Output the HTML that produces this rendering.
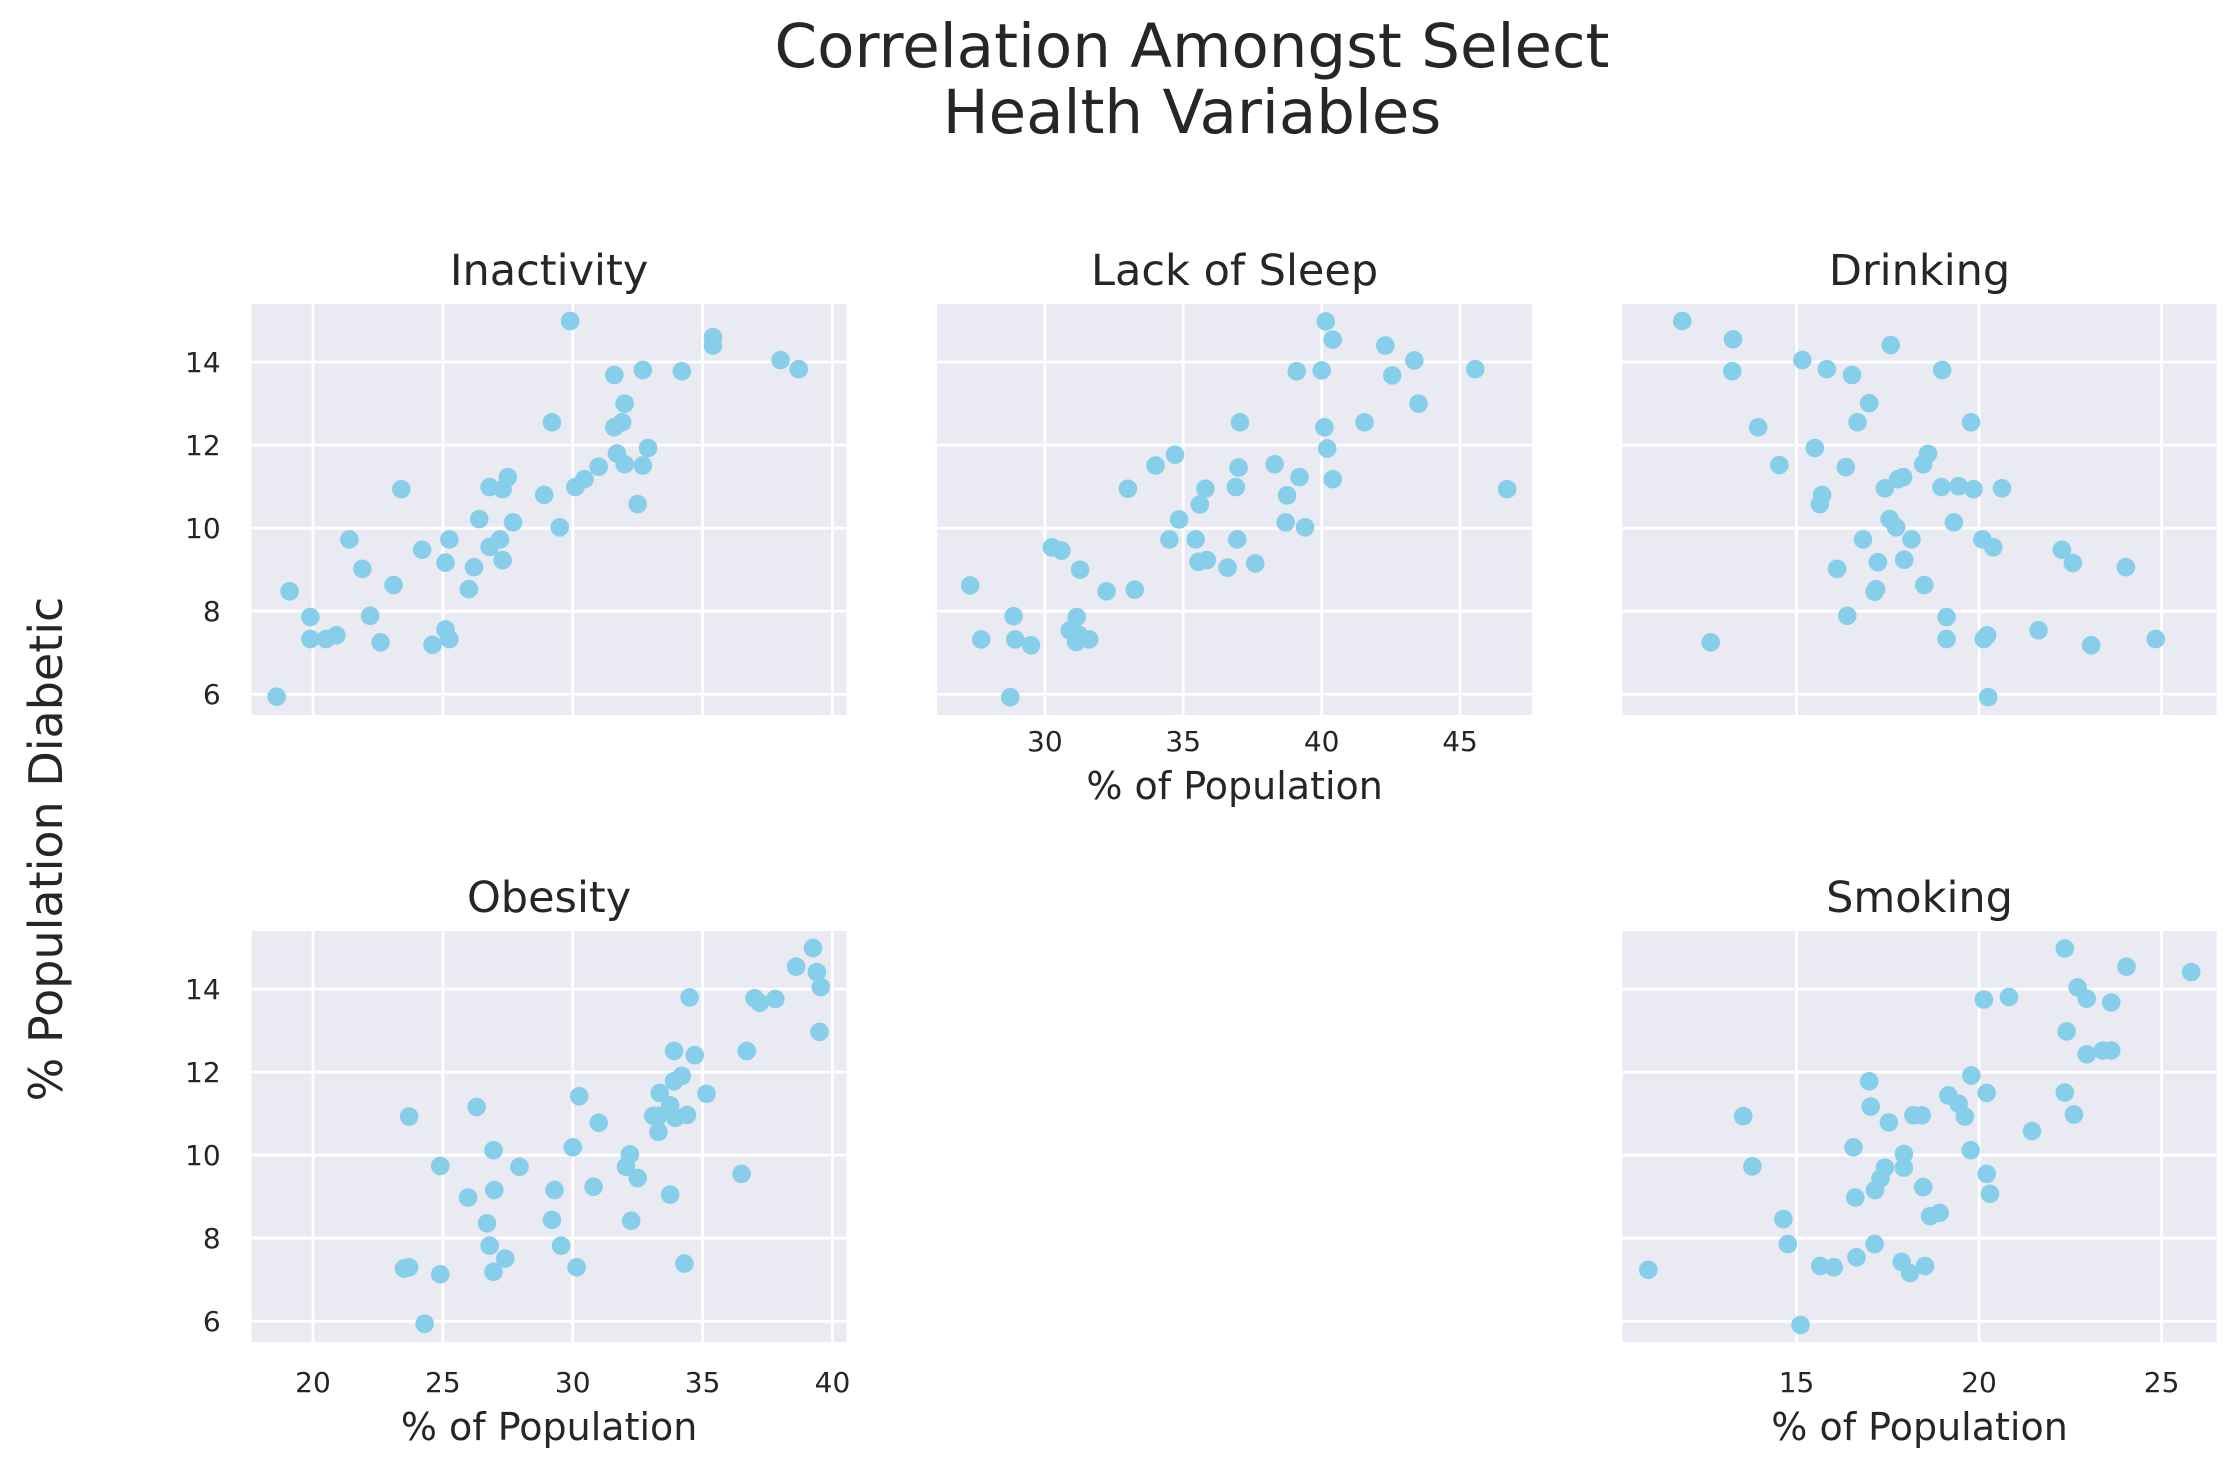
<!DOCTYPE html>
<html><head><meta charset="utf-8"><style>
html,body{margin:0;padding:0;background:#fff;}
svg{display:block;font-family:"DejaVu Sans","Liberation Sans",sans-serif;}
</style></head><body>
<svg id="fig" width="2230" height="1467" viewBox="0 0 2230 1467" xmlns="http://www.w3.org/2000/svg">
<text x="1192" y="67" font-size="61" text-anchor="middle" fill="#262626">Correlation Amongst Select</text>
<text x="1192" y="133" font-size="61" text-anchor="middle" fill="#262626">Health Variables</text>
<text x="0" y="0" font-size="46" text-anchor="middle" fill="#262626" transform="translate(62,849) rotate(-90)">% Population Diabetic</text>
</svg>
<script>
const inactivityX=[29.9,35.4,35.4,38.0,38.7,31.6,32.7,34.2,32.0,29.2,31.9,31.6,32.9,31.7,32.0,32.7,31.0,30.45,30.1,28.9,32.5,27.5,26.8,27.3,23.4,26.4,27.7,29.5,25.25,27.2,26.8,21.4,24.2,25.1,26.2,27.3,21.9,23.1,26.0,19.1,19.9,22.2,25.1,19.9,20.5,20.9,22.6,24.6,25.25,18.6];
const inactivityY=[14.99,14.6,14.4,14.05,13.83,13.69,13.81,13.78,13.0,12.55,12.55,12.43,11.93,11.8,11.54,11.51,11.48,11.18,10.99,10.8,10.58,11.23,10.99,10.94,10.94,10.22,10.14,10.02,9.73,9.73,9.55,9.73,9.48,9.17,9.06,9.23,9.02,8.63,8.53,8.48,7.86,7.89,7.56,7.33,7.33,7.42,7.25,7.19,7.33,5.94];
const sleepX=[40.15,40.4,42.3,43.35,39.1,40.0,42.55,45.55,43.5,37.05,40.1,41.55,40.2,34.7,34.0,37.0,38.3,39.2,40.4,33.0,35.8,36.9,46.7,35.6,38.75,34.85,38.7,39.4,34.5,35.45,36.95,30.25,30.6,31.27,35.55,35.85,36.6,37.6,27.3,32.23,33.25,28.87,31.15,27.7,28.93,29.5,30.9,31.23,31.13,31.6,28.75];
const sleepY=[14.98,14.54,14.40,14.04,13.78,13.80,13.68,13.83,13.0,12.55,12.43,12.55,11.92,11.77,11.51,11.46,11.54,11.23,11.18,10.95,10.95,10.99,10.94,10.57,10.79,10.21,10.14,10.02,9.73,9.73,9.73,9.54,9.46,9.0,9.19,9.23,9.05,9.15,8.62,8.48,8.52,7.88,7.86,7.32,7.32,7.18,7.54,7.43,7.26,7.32,5.93];
const drinkingX=[11.87,13.26,17.58,15.16,13.24,15.83,16.52,18.99,16.99,13.95,16.67,19.78,15.5,18.6,14.53,16.35,18.47,17.78,17.92,17.42,18.97,19.44,19.85,20.63,15.7,15.64,17.55,17.73,19.31,16.82,18.15,20.09,20.39,22.27,22.57,24.02,16.11,17.23,17.95,17.18,17.14,18.5,16.39,19.11,12.65,19.11,20.13,20.22,21.63,23.07,24.84,20.25];
const drinkingY=[14.99,14.55,14.41,14.05,13.78,13.83,13.69,13.81,13.01,12.43,12.55,12.55,11.93,11.79,11.52,11.47,11.54,11.18,11.23,10.96,10.99,11.01,10.94,10.96,10.80,10.58,10.22,10.02,10.14,9.73,9.73,9.73,9.54,9.48,9.16,9.06,9.02,9.18,9.24,8.53,8.47,8.63,7.89,7.86,7.25,7.33,7.33,7.42,7.54,7.18,7.33,5.93];
const obesityX=[39.25,38.6,39.4,39.55,34.5,37.0,37.2,37.8,39.5,33.9,34.7,36.7,34.2,33.9,33.35,35.15,30.25,33.75,26.3,23.7,33.1,33.3,33.95,34.4,31.0,33.3,26.95,30.0,32.2,32.05,32.5,24.9,27.95,36.5,26.98,29.3,30.8,25.97,33.75,29.2,26.7,32.25,26.8,29.55,27.4,23.5,23.7,24.9,26.95,30.15,34.3,24.3];
const obesityY=[14.99,14.54,14.41,14.05,13.80,13.78,13.67,13.76,12.97,12.51,12.41,12.51,11.91,11.78,11.50,11.48,11.42,11.20,11.16,10.93,10.95,10.95,10.90,10.97,10.78,10.56,10.12,10.19,10.02,9.72,9.45,9.74,9.72,9.55,9.16,9.16,9.24,8.98,9.05,8.44,8.36,8.42,7.82,7.82,7.51,7.27,7.30,7.13,7.19,7.30,7.39,5.94];
const smokingX=[22.35,24.04,25.81,22.7,20.13,20.82,22.95,23.62,22.4,22.95,23.39,23.62,19.79,16.99,20.21,19.16,19.44,19.61,22.35,22.6,13.54,17.03,18.2,18.43,17.53,21.45,16.56,19.77,17.94,17.94,17.42,17.3,17.15,13.79,20.21,20.3,18.47,16.61,14.64,18.66,18.92,14.76,17.14,16.64,10.94,15.65,16.02,17.88,18.11,18.52,15.11];
const smokingY=[14.98,14.54,14.41,14.04,13.75,13.81,13.77,13.68,12.98,12.43,12.52,12.52,11.92,11.78,11.50,11.44,11.24,10.93,11.51,10.98,10.94,11.17,10.96,10.96,10.79,10.58,10.19,10.12,10.03,9.70,9.70,9.44,9.16,9.73,9.55,9.07,9.23,8.98,8.46,8.53,8.61,7.86,7.86,7.54,7.24,7.33,7.30,7.43,7.16,7.33,5.91];
const col1Ticks=[20,25,30,35,40];
const col2Ticks=[30,35,40,45];
const col3Ticks=[15,20,25];
const yTicks=[6,8,10,12,14];

const NS="http://www.w3.org/2000/svg";
const svg=document.getElementById('fig');
function mk(tag,attrs,parent){const e=document.createElementNS(NS,tag);for(const k in attrs)e.setAttribute(k,attrs[k]);(parent||svg).appendChild(e);return e;}
const yDom=[5.50,15.40];
function panel(name,title,x0,x1,y0,y1,xDom,xTicks,showX,showY,xs,ys,tickOff,labOff){
  const g=mk('g',{});
  
  
  const sx=v=>x0+(v-xDom[0])/(xDom[1]-xDom[0])*(x1-x0);
  const sy=v=>y1-(v-yDom[0])/(yDom[1]-yDom[0])*(y1-y0);
  const bg=mk('rect',{x:x0,y:y0,width:x1-x0,height:y1-y0,fill:'#EAEAF2'},g);
  
  
  xTicks.forEach(t=>{
    const l=mk('line',{x1:sx(t),x2:sx(t),y1:y0,y2:y1,stroke:'#fff','stroke-width':2.8},g);
    
    
    if(showX){
      const tx=mk('text',{x:sx(t),y:y1+tickOff,'font-size':28,'text-anchor':'middle',fill:'#262626'},g);
      
      
      tx.textContent=t;
    }
  });
  yTicks.forEach(t=>{
    const l=mk('line',{x1:x0,x2:x1,y1:sy(t),y2:sy(t),stroke:'#fff','stroke-width':2.8},g);
    
    
    if(showY){
      const tx=mk('text',{x:x0-31,y:sy(t)+10,'font-size':28,'text-anchor':'end',fill:'#262626'},g);
      
      
      tx.textContent=t;
    }
  });
  for(let i=0;i<xs.length;i++){
    const c=mk('circle',{cx:sx(xs[i]),cy:sy(ys[i]),r:9.3,fill:'#87CEEB'},g);
    
    
  }
  const tt=mk('text',{x:(x0+x1)/2,y:y0-19,'font-size':43,'text-anchor':'middle',fill:'#262626'},g);
  
  
  tt.textContent=title;
  if(showX){
    const xl=mk('text',{x:(x0+x1)/2,y:y1+labOff,'font-size':38,'text-anchor':'middle',fill:'#262626'},g);
    
    
    xl.textContent='% of Population';
  }
}
const c1=[251.7,846.5],c2=[937.2,1532],c3=[1622.4,2216.7];
const r1=[304,715],r2=[931,1342];
const d1=[17.64,40.54],d2=[26.11,47.6],d3=[10.23,26.51];
panel('inactivity','Inactivity',c1[0],c1[1],r1[0],r1[1],d1,col1Ticks,false,true,inactivityX,inactivityY,50,98);
panel('lack-of-sleep','Lack of Sleep',c2[0],c2[1],r1[0],r1[1],d2,col2Ticks,true,false,sleepX,sleepY,36,84);
panel('drinking','Drinking',c3[0],c3[1],r1[0],r1[1],d3,col3Ticks,false,false,drinkingX,drinkingY,50,98);
panel('obesity','Obesity',c1[0],c1[1],r2[0],r2[1],d1,col1Ticks,true,true,obesityX,obesityY,50,98);
panel('smoking','Smoking',c3[0],c3[1],r2[0],r2[1],d3,col3Ticks,true,false,smokingX,smokingY,50,98);
</script>
</body></html>
